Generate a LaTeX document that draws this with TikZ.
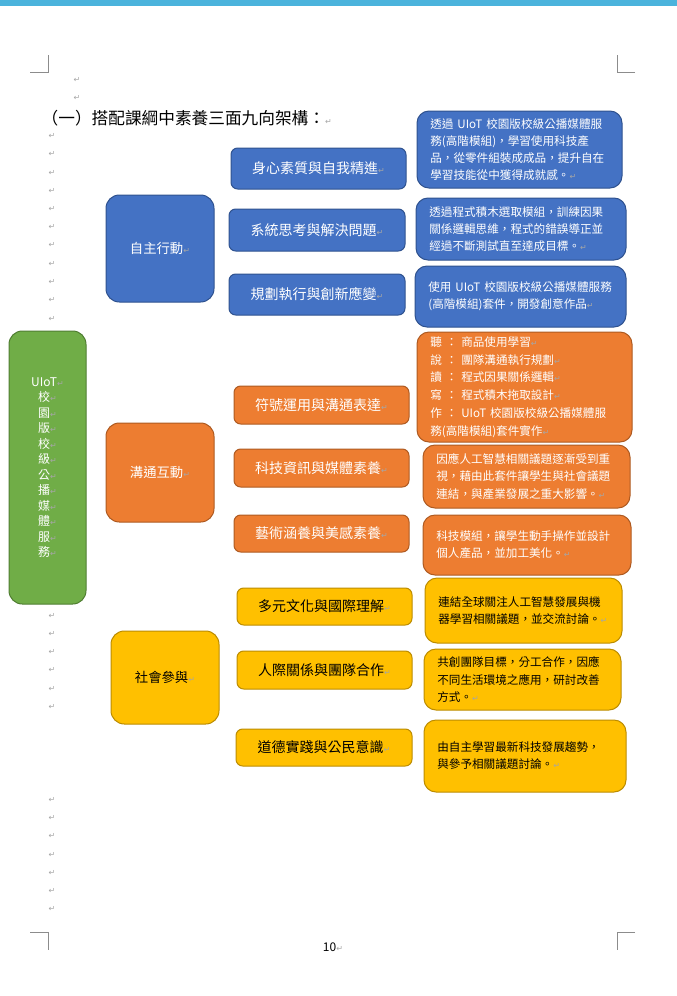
\documentclass[tikz,border=0pt]{standalone}
\usepackage{fontspec}
\setmainfont{Noto Sans CJK TC}
\newfontfamily\dvfont{DejaVu Sans}
\definecolor{topbar}{HTML}{4BB3DC}
\definecolor{bfill}{HTML}{4472C4}\definecolor{bline}{HTML}{2F528F}
\definecolor{ofill}{HTML}{ED7D31}\definecolor{oline}{HTML}{AE5A21}
\definecolor{yfill}{HTML}{FFC000}\definecolor{yline}{HTML}{BC8C00}
\definecolor{gfill}{HTML}{70AD47}\definecolor{gline}{HTML}{507E32}
\definecolor{markgray}{HTML}{A6A6A6}
\definecolor{cropgray}{HTML}{8C8C8C}
\newcommand\pmk{{\dvfont\color{markgray}\fontsize{6}{6}\selectfont ↵}}
\newcommand\cbox[7]{%
 \pgfmathsetmacro\cx{(#2+#4)/2}%
 \pgfmathsetmacro\cy{(#3+#5)/2}%
 \pgfmathsetmacro\bw{(#4-#2)*0.75}%
 \pgfmathsetmacro\bh{(#5-#3)*0.75}%
 \node[#6, minimum width=\bw pt, minimum height=\bh pt] (#1) at (\cx,\cy) {#7};}
\newcommand\rbox[7]{%
 \pgfmathsetmacro\cx{(#2+#4)/2}%
 \pgfmathsetmacro\cy{(#3+#5)/2}%
 \pgfmathsetmacro\bw{(#4-#2)*0.75}%
 \pgfmathsetmacro\bh{(#5-#3)*0.75}%
 \pgfmathsetmacro\tw{(#4-#2)*0.75-20}%
 \node[#6, minimum width=\bw pt, minimum height=\bh pt, text width=\tw pt] (#1) at (\cx,\cy) {#7};}
\tikzset{
  box/.style={draw, line width=0.75pt},
  bigbox/.style={box, rounded corners=10pt, align=center, inner sep=2pt, font=\fontsize{10}{12}\selectfont},
  midbox/.style={box, rounded corners=5pt, align=center, inner sep=2pt, font=\fontsize{10.5}{12}\selectfont},
  rtbox/.style={box, rounded corners=9pt, align=left, inner xsep=10pt, inner ysep=2pt, font=\fontsize{8.7}{12.8}\selectfont},
  bluec/.style={fill=bfill, draw=bline, text=white},
  orangec/.style={fill=ofill, draw=oline, text=white},
  yellowc/.style={fill=yfill, draw=yline, text=black},
  greenc/.style={fill=gfill, draw=gline, text=white},
  crop/.style={draw=cropgray, line width=0.6pt},
}
\begin{document}
\begin{tikzpicture}[x=0.75pt, y=-0.75pt]
\useasboundingbox (0,0) rectangle (677,996);
\fill[topbar] (0,0) rectangle (677,6);
% crop marks
\draw[crop] (30,72) -- (48,72) -- (48,55);
\draw[crop] (635,72) -- (617,72) -- (617,55);
\draw[crop] (30,932) -- (48,932) -- (48,950);
\draw[crop] (635,932) -- (617,932) -- (617,950);
% paragraph marks in margin
\foreach \yy [count=\i] in {80,98} \node (ta\i) at (77,\yy) {\pmk};
\foreach \yy [count=\i] in {136,154,173,191,209,227,245,264,282,300,319,616,634,652,670,689,707,800,818,836,855,873,891,909}
  \node (m\i) at (52,\yy) {\pmk};
% title
\node[anchor=west, font=\fontsize{12.5}{14}\selectfont] (title) at (37,118) {（一）搭配課綱中素養三面九向架構：\pmk};
% green
\cbox{root}{9}{331}{86}{604}{box, greenc, rounded corners=10pt, align=center, inner sep=1pt, font=\fontsize{9}{11.6}\selectfont}{UIoT\pmk\\校\pmk\\園\pmk\\版\pmk\\校\pmk\\級\pmk\\公\pmk\\播\pmk\\媒\pmk\\體\pmk\\服\pmk\\務\pmk}
% big category boxes
\cbox{c1}{106}{195}{214}{302}{bigbox, bluec}{自主行動\pmk}
\cbox{c2}{106}{423}{214}{522}{bigbox, orangec}{溝通互動\pmk}
\cbox{c3}{111}{631}{219}{724}{bigbox, yellowc}{社會參與\pmk}
% middle boxes
\cbox{a1}{231}{148}{406}{189}{midbox, bluec}{身心素質與自我精進\pmk}
\cbox{a2}{229}{209}{405}{251}{midbox, bluec}{系統思考與解決問題\pmk}
\cbox{a3}{229}{274}{405}{315}{midbox, bluec}{規劃執行與創新應變\pmk}
\cbox{b1}{234}{386}{409}{424}{midbox, orangec}{符號運用與溝通表達\pmk}
\cbox{b2}{234}{449}{409}{487}{midbox, orangec}{科技資訊與媒體素養\pmk}
\cbox{b3}{234}{515}{409}{552}{midbox, orangec}{藝術涵養與美感素養\pmk}
\cbox{d1}{237}{588}{412}{625}{midbox, yellowc}{多元文化與國際理解\pmk}
\cbox{d2}{237}{651}{412}{689}{midbox, yellowc}{人際關係與團隊合作\pmk}
\cbox{d3}{236}{729}{412}{766}{midbox, yellowc}{道德實踐與公民意識\pmk}
% right boxes
\rbox{ra1}{417}{111}{622}{188}{rtbox, bluec}{透過 UIoT 校園版校級公播媒體服\\務(高階模組)，學習使用科技產\\品，從零件組裝成成品，提升自在\\學習技能從中獲得成就感。\pmk}
\rbox{ra2}{416}{198}{626}{260}{rtbox, bluec}{透過程式積木選取模組，訓練因果\\關係邏輯思維，程式的錯誤導正並\\經過不斷測試直至達成目標。\pmk}
\rbox{ra3}{415}{266}{626}{327}{rtbox, bluec}{使用 UIoT 校園版校級公播媒體服務\\(高階模組)套件，開發創意作品\pmk}
\rbox{rb1}{417}{332}{632}{442}{rtbox, orangec, font=\fontsize{8.7}{13.3}\selectfont}{聽 ： 商品使用學習\pmk\\說 ： 團隊溝通執行規劃\pmk\\讀 ： 程式因果關係邏輯\pmk\\寫 ： 程式積木拖取設計\pmk\\作 ： UIoT 校園版校級公播媒體服\\務(高階模組)套件實作\pmk}
\rbox{rb2}{423}{445}{630}{508}{rtbox, orangec}{因應人工智慧相關議題逐漸受到重\\視，藉由此套件讓學生與社會議題\\連結，與產業發展之重大影響。\pmk}
\rbox{rb3}{423}{515}{631}{575}{rtbox, orangec}{科技模組，讓學生動手操作並設計\\個人產品，並加工美化。\pmk}
\rbox{rc1}{425}{578}{622}{643}{rtbox, yellowc}{連結全球關注人工智慧發展與機\\器學習相關議題，並交流討論。\pmk}
\rbox{rc2}{424}{649}{621}{710}{rtbox, yellowc}{共創團隊目標，分工合作，因應\\不同生活環境之應用，研討改善\\方式。\pmk}
\rbox{rc3}{424}{720}{626}{792}{rtbox, yellowc}{由自主學習最新科技發展趨勢，\\與參予相關議題討論。\pmk}
% page number
\node[font=\fontsize{9}{10}\selectfont] (pg) at (333,947) {10\pmk};
\end{tikzpicture}
\end{document}
